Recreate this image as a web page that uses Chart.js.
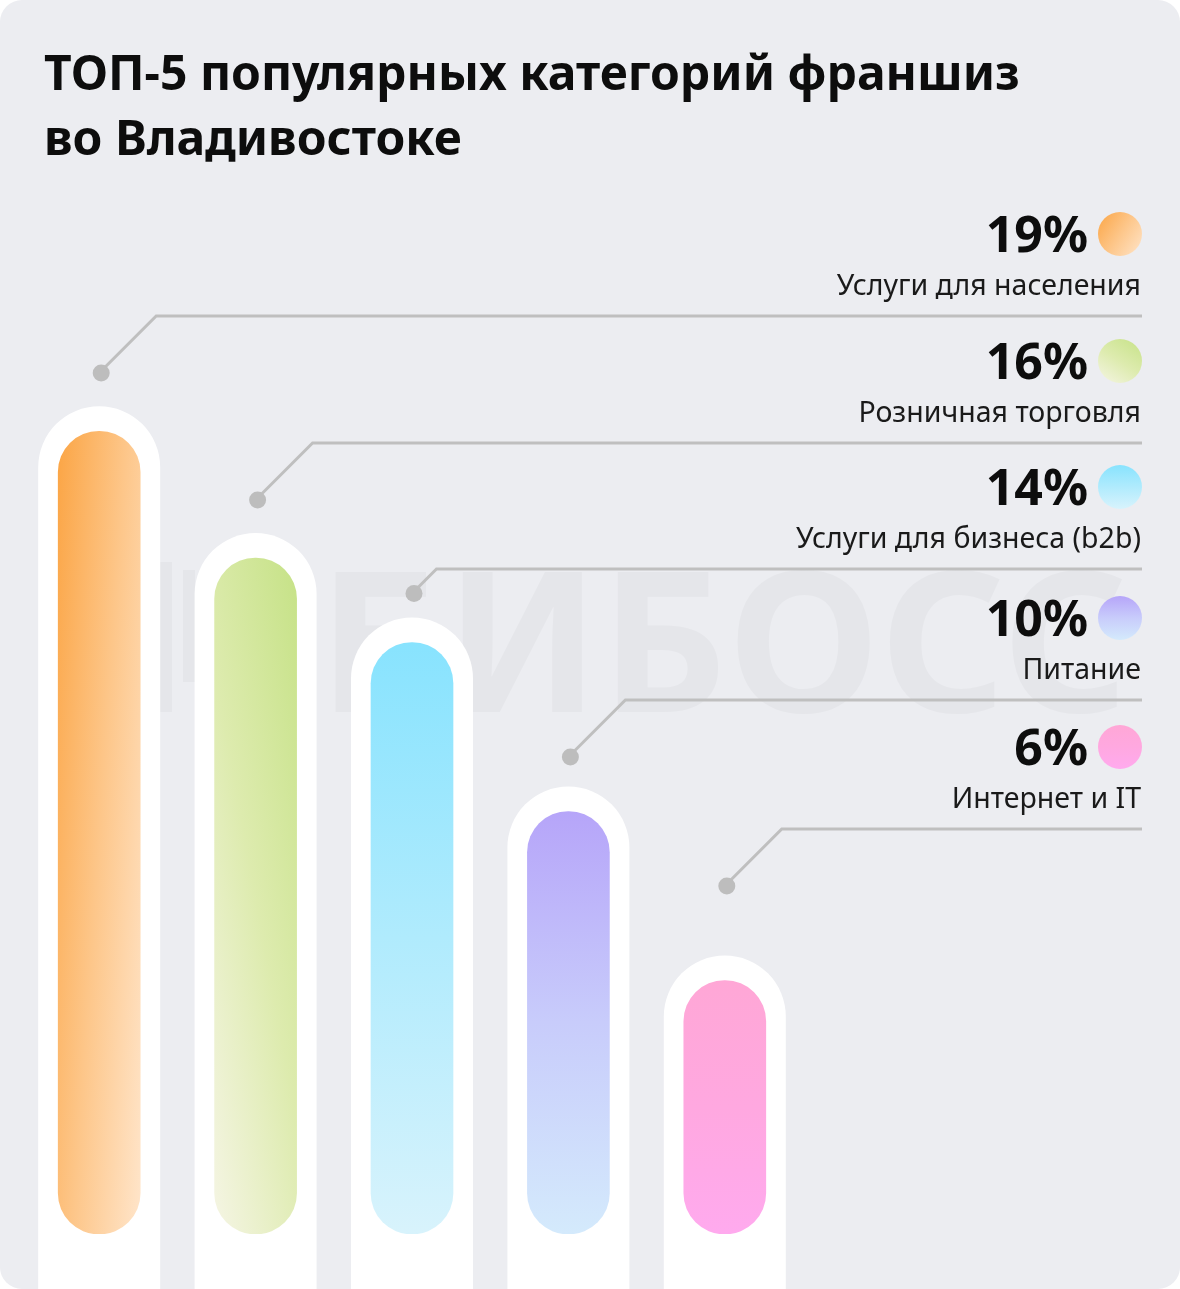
<!DOCTYPE html>
<html lang="ru">
<head>
<meta charset="utf-8">
<title>ТОП-5 популярных категорий франшиз во Владивостоке</title>
<script src="https://cdn.jsdelivr.net/npm/chart.js@4.4.1/dist/chart.umd.min.js"></script>
<style>
  html, body { margin: 0; padding: 0; background: #ffffff; }
  #card {
    position: relative;
    width: 1180px;
    height: 1289px;
    background: #ECEDF1;
    border-radius: 22px;
    overflow: hidden;
  }
  #title {
    position: absolute;
    left: 44px;
    top: 39px;
    margin: 0;
    font-family: "Noto Sans", sans-serif;
    font-weight: 700;
    font-size: 48px;
    line-height: 65px;
    color: #0d0d0d;
  }
  #myChart { position: absolute; left: 0; top: 0; }
</style>
</head>
<body>
<div id="card">
  <canvas id="myChart" width="1180" height="1289"></canvas>
  <h1 id="title">ТОП-5 популярных категорий франшиз<br>во Владивостоке</h1>
</div>
<script>
var categories = ['Услуги для населения', 'Розничная торговля', 'Услуги для бизнеса (b2b)', 'Питание', 'Интернет и IT'];
var shares = [19, 16, 14, 10, 6];
var shareLabels = ['19%', '16%', '14%', '10%', '6%'];

// colour stops per bar
var fills = [
    { dir: 'fromLeft',  px: 0.6, stops: ['#FBA545', '#FDC689', '#FFE5CA'] },
    { dir: 'fromRight', px: 0.4, stops: ['#C6E287', '#DDEBAE', '#F5F5E4'] },
    { dir: 'down',      px: 0,   stops: ['#88E3FE', '#B0EBFD', '#D8F3FC'] },
    { dir: 'down',      px: 0,   stops: ['#B6A5F9', '#C8CCFB', '#D4EAFC'] },
    { dir: 'down',      px: 0,   stops: ['#FFA7D6', '#FFA8E0', '#FFAAEE'] }
];

// y of each legend row's underline
var rowLines = [316, 443, 569, 700, 829];

function makeGradient(ctx, i, x0, y0, w, h) {
    var f = fills[i];
    var g;
    if (f.dir === 'down') {
        g = ctx.createLinearGradient(x0, y0, x0, y0 + h);
    } else {
        var p = f.px, q = 1 - f.px;
        var d2 = 1 / (p * p / (w * w) + q * q / (h * h));
        var a = p * d2 / w, b = q * d2 / h;
        if (f.dir === 'fromLeft') {
            g = ctx.createLinearGradient(x0, y0, x0 + a, y0 + b);
        } else {
            g = ctx.createLinearGradient(x0 + w, y0, x0 + w - a, y0 + b);
        }
    }
    g.addColorStop(0, f.stops[0]);
    g.addColorStop(0.5, f.stops[1]);
    g.addColorStop(1, f.stops[2]);
    return g;
}

function barFill(context) {
    var chart = context.chart;
    var i = context.dataIndex;
    if (!chart.chartArea || !chart.scales.x || !chart.scales.y) return fills[i].stops[1];
    var cx = chart.scales.x.getPixelForValue(i);
    var top = chart.scales.y.getPixelForValue(shares[i]);
    var bottom = chart.scales.y.getPixelForValue(0);
    return makeGradient(chart.ctx, i, cx - 41, top, 82, bottom - top);
}

var backdrop = {
    id: 'backdrop',
    beforeDraw: function(chart) {
        var ctx = chart.ctx;
        ctx.save();
        // faint watermark
        ctx.fillStyle = '#E5E6EA';
        ctx.font = '700 196px "Noto Sans"';
        ctx.textBaseline = 'alphabetic';
        ctx.fillText('БИБОСС', 318, 712);
        ctx.fillRect(160, 562, 12, 150);
        ctx.fillRect(183, 570, 12, 112);
        ctx.fillRect(183, 670, 36, 12);
        ctx.restore();
    },
    beforeDatasetsDraw: function(chart) {
        var ctx = chart.ctx;
        var meta = chart.getDatasetMeta(0);
        ctx.save();
        ctx.fillStyle = '#ffffff';
        meta.data.forEach(function(bar) {
            var r = 61;
            var top = bar.y - 25;
            ctx.beginPath();
            ctx.moveTo(bar.x - r, chart.height);
            ctx.lineTo(bar.x - r, top + r);
            ctx.arc(bar.x, top + r, r, Math.PI, 0);
            ctx.lineTo(bar.x + r, chart.height);
            ctx.closePath();
            ctx.fill();
        });
        ctx.restore();
    },
    afterDatasetsDraw: function(chart) {
        var ctx = chart.ctx;
        var meta = chart.getDatasetMeta(0);
        ctx.save();
        meta.data.forEach(function(bar, i) {
            var lineY = rowLines[i];
            var pillTop = bar.y - 25;
            var dotY = Math.min(lineY + 57, pillTop - 24);
            var dx = dotY - lineY;
            ctx.strokeStyle = '#BFBFBF';
            ctx.lineWidth = 3;
            ctx.beginPath();
            ctx.moveTo(bar.x, dotY);
            ctx.lineTo(bar.x + dx, lineY);
            ctx.lineTo(1142, lineY);
            ctx.stroke();
            ctx.fillStyle = '#BDBDBD';
            ctx.beginPath();
            ctx.arc(bar.x + 2, dotY, 8.5, 0, Math.PI * 2);
            ctx.fill();

            // legend
            ctx.fillStyle = makeGradient(ctx, i, 1098, lineY - 104, 44, 44);
            ctx.beginPath();
            ctx.arc(1120, lineY - 82, 22, 0, Math.PI * 2);
            ctx.fill();

            ctx.fillStyle = '#0d0d0d';
            ctx.textAlign = 'right';
            ctx.textBaseline = 'alphabetic';
            ctx.font = '700 50px "Noto Sans"';
            ctx.fillText(shareLabels[i], 1088, lineY - 64);
            ctx.fillStyle = '#1a1a1a';
            ctx.font = '400 28.5px "Noto Sans"';
            ctx.fillText(categories[i], 1141, lineY - 21);
        });
        ctx.restore();
    }
};

var myChart = new Chart(document.getElementById('myChart'), {
    type: 'bar',
    data: {
        labels: categories,
        datasets: [{
            label: 'Доля, %',
            data: shares,
            backgroundColor: barFill,
            borderWidth: 0,
            borderRadius: 41,
            borderSkipped: false,
            barThickness: 82
        }]
    },
    options: {
        responsive: false,
        animation: false,
        layout: { padding: { left: 21, right: 377, top: 389, bottom: 55 } },
        scales: {
            x: { display: false, offset: true },
            y: { display: false, min: 0, max: 20 }
        },
        plugins: {
            legend: { display: false },
            tooltip: { enabled: false },
            title: { display: false }
        }
    },
    plugins: [backdrop]
});
</script>
</body>
</html>
